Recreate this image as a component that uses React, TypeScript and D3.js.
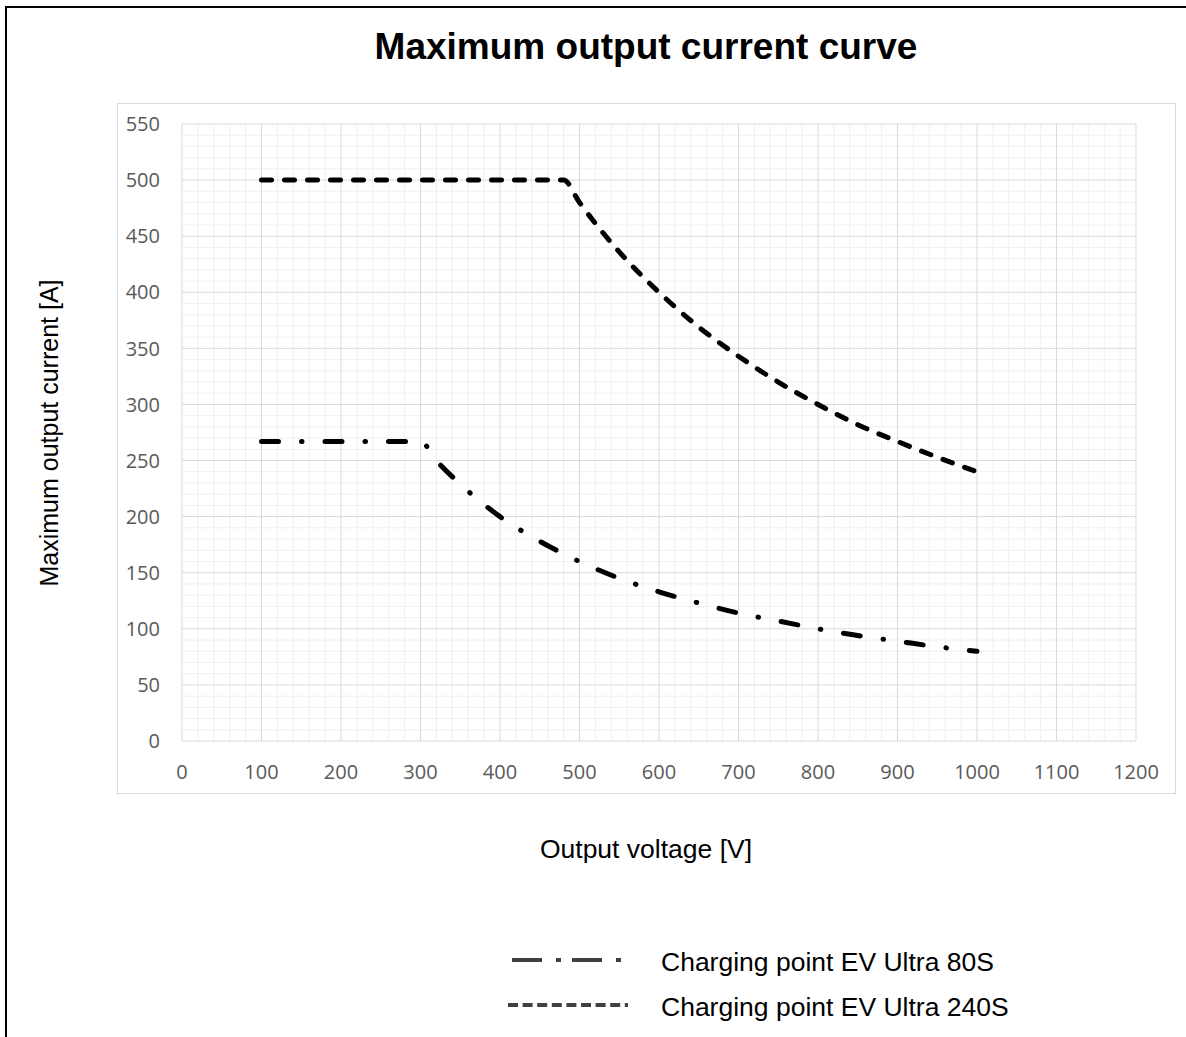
import React from "react";
import * as d3 from "d3";

const voltage240 = [100, 200, 300, 400, 480, 500, 550, 600, 650, 700, 750, 800, 850, 900, 950, 1000];
const current240 = [500, 500, 500, 500, 500, 480, 436, 400, 369, 343, 320, 300, 282, 267, 253, 240];

const voltage80 = [100, 200, 300, 320, 350, 400, 450, 500, 550, 600, 650, 700, 750, 800, 850, 900, 950, 1000];
const current80 = [267, 267, 267, 250, 229, 200, 178, 160, 145, 133, 123, 114, 107, 100, 94, 89, 84, 80];

const xTicks = [0, 100, 200, 300, 400, 500, 600, 700, 800, 900, 1000, 1100, 1200];
const yTicks = [0, 50, 100, 150, 200, 250, 300, 350, 400, 450, 500, 550];

const seriesNames = ["Charging point EV Ultra 80S", "Charging point EV Ultra 240S"];
const title = "Maximum output current curve";
const xLabel = "Output voltage [V]";
const yLabel = "Maximum output current [A]";

const W = 1186;
const H = 1037;

export default function App() {
  const x = d3.scaleLinear().domain([0, 1200]).range([182, 1136]);
  const y = d3.scaleLinear().domain([0, 550]).range([741, 124]);

  const line = d3
    .line<[number, number]>()
    .x((d) => x(d[0]))
    .y((d) => y(d[1]))
    .curve(d3.curveMonotoneX);

  const d240 = line(voltage240.map((v, i) => [v, current240[i]] as [number, number])) || "";
  const d80 = line(voltage80.map((v, i) => [v, current80[i]] as [number, number])) || "";

  const minorX = d3.range(0, 1201, 20).filter((v) => v % 100 !== 0);
  const minorY = d3.range(0, 551, 10).filter((v) => v % 50 !== 0);

  const sans = "'Liberation Sans', Arial, sans-serif";
  const tickFont = "'Open Sans', 'Noto Sans', sans-serif";

  return (
    <svg
      width={W}
      height={H}
      style={{ position: "absolute", left: 0, top: 0, background: "#fff" }}
    >
      <rect x={0} y={0} width={W} height={H} fill="#fff" />
      <rect x={6} y={7} width={1400} height={1200} fill="none" stroke="#000" strokeWidth={2} />
      <text
        x={646}
        y={59}
        textAnchor="middle"
        fontFamily={sans}
        fontWeight="bold"
        fontSize={37}
        fill="#000"
      >
        {title}
      </text>

      <rect x={117.5} y={103.5} width={1058} height={690} fill="none" stroke="#d9d9d9" strokeWidth={1} />

      {/* minor grid */}
      <g stroke="#f0f0f0" strokeWidth={1}>
        {minorX.map((v) => (
          <line key={"mx" + v} x1={x(v)} x2={x(v)} y1={y(0)} y2={y(550)} />
        ))}
        {minorY.map((v) => (
          <line key={"my" + v} x1={x(0)} x2={x(1200)} y1={y(v)} y2={y(v)} />
        ))}
      </g>
      {/* major grid */}
      <g stroke="#d9d9d9" strokeWidth={1}>
        {xTicks.map((v) => (
          <line key={"Mx" + v} x1={x(v)} x2={x(v)} y1={y(0)} y2={y(550)} />
        ))}
        {yTicks.map((v) => (
          <line key={"My" + v} x1={x(0)} x2={x(1200)} y1={y(v)} y2={y(v)} />
        ))}
      </g>

      {/* tick labels */}
      <g fontFamily={tickFont} fontSize={20} fill="#595959">
        {yTicks.map((v) => (
          <text key={"yt" + v} x={160} y={y(v)} dy="0.36em" textAnchor="end">
            {v}
          </text>
        ))}
        {xTicks.map((v) => (
          <text key={"xt" + v} x={x(v)} y={779} textAnchor="middle">
            {v}
          </text>
        ))}
      </g>

      {/* series */}
      <path
        d={d240}
        fill="none"
        stroke="#000"
        strokeWidth={5}
        strokeLinecap="round"
        strokeLinejoin="round"
        strokeDasharray="10,13"
      />
      <path
        d={d80}
        fill="none"
        stroke="#000"
        strokeWidth={5}
        strokeLinecap="round"
        strokeLinejoin="round"
        strokeDasharray="17,23,0.5,23"
      />

      {/* axis titles */}
      <text x={646} y={858} textAnchor="middle" fontFamily={sans} fontSize={26.5} fill="#000">
        {xLabel}
      </text>
      <text
        transform="translate(58,433) rotate(-90)"
        textAnchor="middle"
        fontFamily={sans}
        fontSize={25}
        fill="#000"
      >
        {yLabel}
      </text>

      {/* legend */}
      <line x1={512} x2={632} y1={960} y2={960} stroke="#404040" strokeWidth={4} strokeDasharray="30,14,5,11" />
      <text x={661} y={971} fontFamily={sans} fontSize={26.5} fill="#000">
        {seriesNames[0]}
      </text>
      <line x1={508} x2={628} y1={1005} y2={1005} stroke="#404040" strokeWidth={4} strokeDasharray="10,4.6" />
      <text x={661} y={1016} fontFamily={sans} fontSize={26.5} fill="#000">
        {seriesNames[1]}
      </text>
    </svg>
  );
}
